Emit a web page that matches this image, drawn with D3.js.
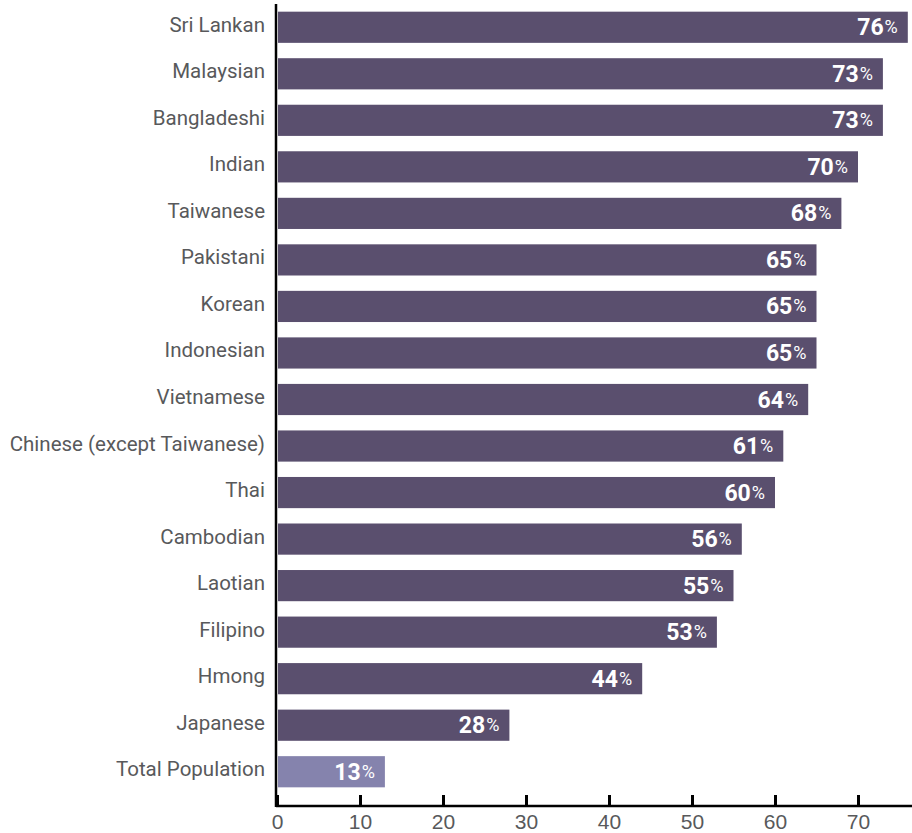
<!DOCTYPE html>
<html lang="en">
<head>
    <meta charset="UTF-8">
    <title>Share with bachelor's degree or higher by Asian group</title>
    <script src="https://d3js.org/d3.v7.min.js"></script>
    <style>
        body {
            margin: 0;
            background-color: #ffffff;
            font-family: Roboto, 'Liberation Sans', sans-serif;
        }
        .cat-label {
            fill: #58595b;
            font-size: 20.5px;
        }
        .tick text {
            fill: #58595b;
            font-size: 21px;
        }
        .val-label {
            fill: #ffffff;
            font-weight: bold;
            font-size: 23px;
        }
    </style>
</head>
<body>
    <div id="chart"></div>
    <script>
        // Categories (top to bottom) and their percentages
        const groups = ["Sri Lankan", "Malaysian", "Bangladeshi", "Indian", "Taiwanese", "Pakistani",
            "Korean", "Indonesian", "Vietnamese", "Chinese (except Taiwanese)", "Thai", "Cambodian",
            "Laotian", "Filipino", "Hmong", "Japanese", "Total Population"];
        const values = [76, 73, 73, 70, 68, 65, 65, 65, 64, 61, 60, 56, 55, 53, 44, 28, 13];
        const xTicks = [0, 10, 20, 30, 40, 50, 60, 70];

        const width = 912, height = 833;
        const margin = { top: 4, right: 0, bottom: 38, left: 277 };

        const svg = d3.select("#chart")
            .append("svg")
            .attr("width", width)
            .attr("height", height);

        const data = groups.map((g, i) => ({ group: g, value: values[i] }));

        const x = d3.scaleLinear().domain([0, 70]).range([margin.left, margin.left + 581]);
        const y = d3.scaleBand().domain(groups)
            .range([margin.top, height - margin.bottom])
            .paddingInner(0.33).paddingOuter(0.165);

        // bars
        svg.selectAll(".bar")
            .data(data)
            .enter()
            .append("rect")
            .attr("class", "bar")
            .attr("x", x(0) + 1)
            .attr("y", d => y(d.group))
            .attr("width", d => x(d.value) - x(0) - 1)
            .attr("height", y.bandwidth())
            .attr("fill", d => d.group === "Total Population" ? "#8583ad" : "#5a4f6e");

        // value labels inside bar end
        const vl = svg.selectAll(".val-label")
            .data(data)
            .enter()
            .append("text")
            .attr("class", "val-label")
            .attr("x", d => x(d.value) - 10)
            .attr("y", d => y(d.group) + y.bandwidth() / 2)
            .attr("dy", "0.35em")
            .attr("text-anchor", "end");
        vl.append("tspan").text(d => d.value);
        vl.append("tspan").attr("font-size", "18px").attr("font-weight", "normal")
            .attr("dx", "1").attr("dy", "-2").text("%");

        // category labels
        svg.selectAll(".cat-label")
            .data(data)
            .enter()
            .append("text")
            .attr("class", "cat-label")
            .attr("x", margin.left - 12)
            .attr("y", d => y(d.group) + y.bandwidth() / 2)
            .attr("dy", "0.22em")
            .attr("text-anchor", "end")
            .text(d => d.group);

        // x axis with inward ticks
        const xAxis = svg.append("g")
            .attr("transform", `translate(0,${height - 27})`)
            .call(d3.axisBottom(x).tickValues(xTicks).tickSize(0).tickPadding(0));
        xAxis.select(".domain").remove();
        xAxis.selectAll(".tick text").attr("y", 23).attr("dy", null);
        xAxis.selectAll(".tick")
            .append("line")
            .attr("y1", 0).attr("y2", -11)
            .attr("stroke", "#000")
            .attr("stroke-width", 3);

        // axis lines
        svg.append("line")
            .attr("x1", margin.left - 1).attr("x2", width)
            .attr("y1", height - 27).attr("y2", height - 27)
            .attr("stroke", "#000").attr("stroke-width", 2.5);
        svg.append("line")
            .attr("x1", margin.left - 1).attr("x2", margin.left - 1)
            .attr("y1", margin.top).attr("y2", height - 26)
            .attr("stroke", "#000").attr("stroke-width", 2.5);
    </script>
</body>
</html>
